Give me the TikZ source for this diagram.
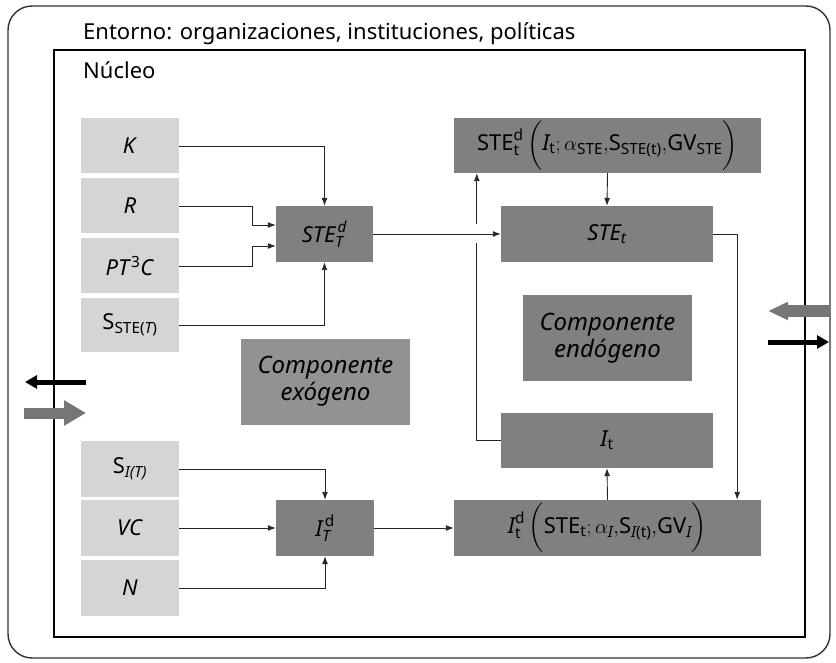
\documentclass[tikz,border=0pt]{standalone}
\usepackage{amsmath}
\usepackage{fontspec}
\setmainfont{Noto Sans}
\usetikzlibrary{arrows.meta,calc}
\definecolor{darkbox}{RGB}{128,128,131}
\definecolor{exobox}{RGB}{146,146,149}
\definecolor{lightbox}{RGB}{213,213,215}
\definecolor{sidegray}{RGB}{118,118,120}
\newcommand{\bigstrut}{\vrule height 23pt depth 19pt width 0pt}
\newcommand{\ti}[1]{\text{\itshape #1}}
\newcommand{\tu}[1]{\text{\upshape #1}}
\begin{document}
\begin{tikzpicture}[x=1pt,y=-1pt,
  lbox/.style={fill=lightbox,draw=none,inner sep=0pt,minimum width=98pt,minimum height=55pt,font=\fontsize{22}{26}\selectfont},
  dbox/.style={fill=darkbox,draw=none,inner sep=0pt,font=\fontsize{22}{26}\selectfont},
  cbox/.style={fill=darkbox,draw=none,inner sep=0pt,minimum width=169pt,minimum height=86pt,align=center,font=\fontsize{24}{27}\selectfont\itshape},
  arr/.style={draw=black!85,line width=0.9pt,-{Latex[length=8pt,width=6pt]}}]
\useasboundingbox (0,0) rectangle (836,663);
% frames
\draw[line width=1.4pt,draw=black!80,rounded corners=24pt] (8,6) rectangle (830,658);
\draw[line width=2.6pt] (54,50) rectangle (805,637);
\node[anchor=base west,font=\fontsize{22}{26}\selectfont,inner sep=0pt] (ent) at (83,40) {Entorno: organizaciones, instituciones, políticas};
\node[anchor=base west,font=\fontsize{22}{26}\selectfont,inner sep=0pt] (nuc) at (83,79) {Núcleo};
% left inputs
\node[lbox] (K) at (130,146) {\textit{K}};
\node[lbox] (R) at (130,206) {\textit{R}};
\node[lbox] (PT) at (130,266) {\textit{PT}\textsuperscript{3}\textit{C}};
\node[lbox,minimum height=54pt] (SS) at (130,325) {$\tu{S}_{\tu{STE(}\ti{T}\tu{)}}$};
\node[dbox,minimum width=97pt,minimum height=56pt] (STETd) at (324.5,234) {$\ti{STE}^{\,\ti{d}}_{\ti{T}}$};
\node[lbox,minimum height=56pt] (SI) at (130,469) {$\tu{S}_{\ti{I(T)}}$};
\node[lbox,minimum height=56pt] (VC) at (130,528) {\textit{VC}};
\node[lbox,minimum height=56pt] (N) at (130,588) {\textit{N}};
\node[dbox,minimum width=98pt,minimum height=56pt] (ITd) at (325,528) {$\ti{I}^{\,\tu{d}}_{\ti{T}}$};
\node[cbox,fill=exobox] (exo) at (325.5,381.5) {Componente\\exógeno};
% right side
\node[dbox,minimum width=307pt,minimum height=55pt] (top) at (607.5,145.5) {$\tu{STE}^{\tu{d}}_{\tu{t}}\left(\bigstrut\ti{I}_{\tu{t}};\alpha_{\tu{STE}}{,}\tu{S}_{\tu{STE(t)}}{,}\tu{GV}_{\tu{STE}}\right)$};
\node[dbox,minimum width=212pt,minimum height=56pt] (STEt) at (607,234) {$\ti{STE}_{\ti{t}}$};
\node[cbox] (endo) at (607.5,338) {Componente\\endógeno};
\node[dbox,minimum width=212pt,minimum height=55pt] (It) at (607,440.5) {$\ti{I}_{\tu{t}}$};
\node[dbox,minimum width=307pt,minimum height=56pt] (Itd) at (607.5,528) {$\ti{I}^{\tu{d}}_{\tu{t}}\left(\bigstrut\tu{STE}_{\tu{t}};\alpha_{\ti{I}}{,}\tu{S}_{\ti{I}\tu{(t)}}{,}\tu{GV}_{\ti{I}}\right)$};
% connectors upper left
\draw[arr] (K.east) -| (STETd.north);
\draw[arr] (R.east) -- ++(73,0) |- ([yshift=9pt]STETd.west);
\draw[arr] (PT.east) -- ++(73,0) |- ([yshift=-12pt]STETd.west);
\draw[arr] (SS.east) -| (STETd.south);
% feedback loop
\draw[arr] (It.west) -| ([xshift=23pt]top.south west);
\draw[white,line width=19pt] (STETd.east) -- (STEt.west);
\draw[arr] (STETd.east) -- (STEt.west);
\draw[arr] (top.south) -- (STEt.north);
\draw[arr] (STEt.east) -| ([xshift=-24pt]Itd.north east);
\draw[arr] (Itd.north) -- (It.south);
% lower left
\draw[arr] (SI.east) -| (ITd.north);
\draw[arr] (VC.east) -- (ITd.west);
\draw[arr] (N.east) -| (ITd.south);
\draw[arr] (ITd.east) -- (Itd.west);
% side arrows
\coordinate (la1) at (86,382);
\coordinate (la2) at (25,382);
\coordinate (lb1) at (24,413);
\coordinate (lb2) at (86,413);
\coordinate (ra1) at (829,311);
\coordinate (ra2) at (768,311);
\coordinate (rb1) at (768,342);
\coordinate (rb2) at (829,342);
\draw[line width=5pt,-{Triangle[length=12pt,width=13pt]}] (la1) -- (la2);
\draw[sidegray,line width=11pt,-{Triangle[length=22pt,width=24pt]}] (lb1) -- (lb2);
\draw[sidegray,line width=12pt,-{Triangle[length=20pt,width=17pt]}] (ra1) -- (ra2);
\draw[line width=5pt,-{Triangle[length=12pt,width=13pt]}] (rb1) -- (rb2);
\end{tikzpicture}
\end{document}
